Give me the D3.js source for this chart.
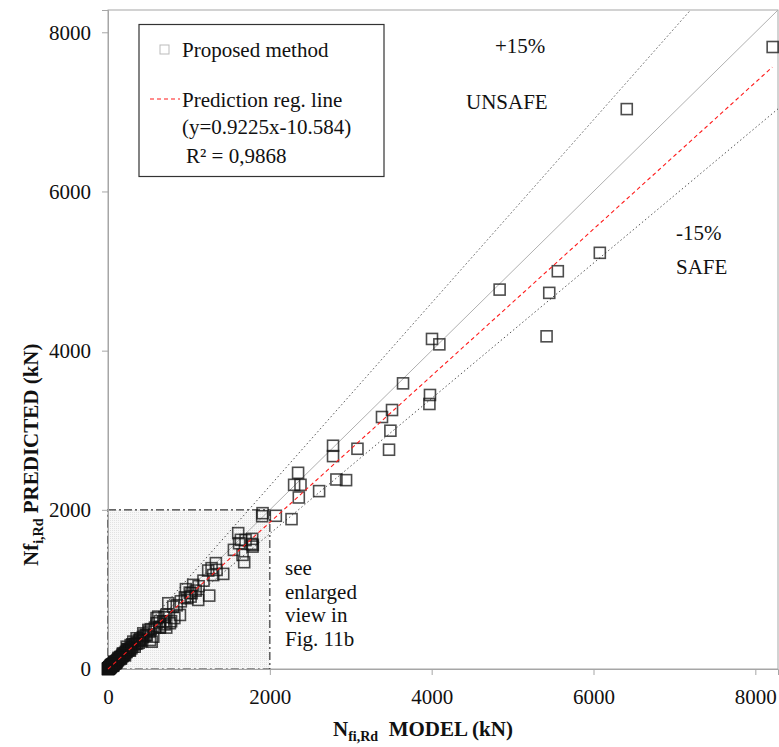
<!DOCTYPE html>
<html><head><meta charset="utf-8">
<script src="https://cdn.jsdelivr.net/npm/d3@7"></script>
<style>
body{margin:0;background:#fff;}
svg text{font-family:"Liberation Serif","Times New Roman",serif !important;fill:#111;}
</style></head>
<body>
<svg id="chart" width="779" height="747"></svg>
<script>
// ---- data ----
const modelValues = [
8214,6411,6078,5559,5453,5420,4840,4004,4095,3646,3979,3972,3510,3386,3490,3473,3083,2781,2781,
2349,2300,2379,2358,2609,2823,2942,1910,1905,2074,2268,1609,1642,1782,1774,1786,1790,1556,1663,1683,
1333,1280,1238,1424,1342,1053,963,1083,1251,1021,1033,1115,745,806,889,621,683,765,601,498,560,436,
354,519,313,642,540,395,231,
280,260,240,220,200,190,170,150,140,120,110,100,90,80,70,60,50,45,40,35,30,25,20,15,10,8,5,3,12,18,28,
55,65,75,85,95,105,130,160,180,210,250,290,330,360,400,420,450,470,510,530,580,640,700,720,850,900,950,
2,4,6,9,14,22,33,38,48,58,68,78,88,115,135,155,175,195,230,270,300,340,380,
700,720,780,820,600,640,480,430,380,330,300,270,240,210,180,160,130,100,80,60,40,20,0,1,5,12,25,35,50,65,75,90,
1010,1120,980,1180,1300,1620,1700
];
const predictedValues = [
7815,7035,5229,4998,4726,4180,4767,4147,4079,3589,3443,3330,3254,3166,2994,2755,2767,2805,2675,
2465,2314,2314,2155,2235,2381,2373,1958,1920,1925,1883,1707,1623,1635,1572,1538,1560,1497,1434,1342,
1330,1267,1237,1195,1245,1057,1003,985,922,910,952,868,826,784,679,658,595,575,575,491,406,448,
386,365,344,532,343,365,280,
300,240,230,215,180,195,160,150,125,115,100,90,85,75,62,58,45,40,35,32,28,22,18,14,9,6,4,2,10,20,25,
50,65,68,80,85,95,125,145,165,200,250,260,310,320,380,350,420,430,470,500,520,600,650,680,800,850,900,
3,2,7,8,12,20,30,40,42,55,60,70,82,105,128,140,165,180,215,250,280,320,360,
560,520,600,640,640,520,420,400,330,280,310,230,250,170,190,130,140,80,90,40,50,25,0,1,8,5,15,45,60,45,90,70,
960,1040,890,1110,1180,1580,1620
];
const axisTicks = [0, 2000, 4000, 6000, 8000];
const axisMax = 8280;
const regSlope = 0.9225, regIntercept = -10.584;
const regRange = [0, 8210];
const enlargeLimit = 2000;
const legendLabels = ["Proposed method", "Prediction reg. line", "(y=0.9225x-10.584)", "R\u00b2 = 0,9868"];
const noteLines = ["see", "enlarged", "view in", "Fig. 11b"];

// ---- chart ----
const FONT = "'Liberation Serif','Times New Roman',serif";
const svg = d3.select("#chart").attr("font-family", FONT);
const x = d3.scaleLinear().domain([0, axisMax]).range([108, 778]);
const y = d3.scaleLinear().domain([0, axisMax]).range([669, 10]);

const defs = svg.append("defs");
const pat = defs.append("pattern").attr("id","dots").attr("width",2).attr("height",2).attr("patternUnits","userSpaceOnUse");
pat.append("rect").attr("width",2).attr("height",2).attr("fill","#f8f8f8");
pat.append("rect").attr("width",1).attr("height",1).attr("fill","#e2e2e2");
defs.append("clipPath").attr("id","plotclip").append("rect")
  .attr("x",108).attr("y",10).attr("width",670).attr("height",659);

// plot frame
svg.append("rect").attr("x",108).attr("y",10).attr("width",670).attr("height",659)
  .attr("fill","#fff").attr("stroke","#a6a6a6").attr("stroke-width",1);

// enlarged region
svg.append("rect")
  .attr("x", x(0)).attr("y", y(enlargeLimit))
  .attr("width", x(enlargeLimit)-x(0)).attr("height", y(0)-y(enlargeLimit))
  .attr("fill","url(#dots)").attr("stroke","#333").attr("stroke-width",1.2)
  .attr("stroke-dasharray","8,3,2,3");

// axes
const xAxis = d3.axisBottom(x).tickValues(axisTicks).tickSize(6).tickPadding(10).tickFormat(d3.format("d"));
const yAxis = d3.axisLeft(y).tickValues(axisTicks).tickSize(6).tickPadding(11).tickFormat(d3.format("d"));
const gx = svg.append("g").attr("transform","translate(0,669)").call(xAxis);
const gy = svg.append("g").attr("transform","translate(108,0)").call(yAxis);
[gx, gy].forEach(g => {
  g.attr("font-family", FONT).attr("font-size", 21);
  g.select(".domain").attr("stroke","#a6a6a6");
  g.selectAll(".tick line").attr("stroke","#a6a6a6");
  g.selectAll(".tick text").attr("font-family", FONT).attr("font-size", 21).attr("fill","#111");
});
gx.selectAll(".tick text").attr("dy","0.9em");

const plot = svg.append("g").attr("clip-path","url(#plotclip)");
const line = d3.line().x(d => x(d[0])).y(d => y(d[1]));

plot.append("path").datum([[0,0],[axisMax,axisMax]]).attr("d",line)
  .attr("stroke","#b0b0b0").attr("stroke-width",1).attr("fill","none");
plot.append("path").datum([[0,0],[axisMax/1.15,axisMax]]).attr("d",line)
  .attr("stroke","#555").attr("stroke-width",1).attr("stroke-dasharray","1.5,2.5").attr("fill","none");
plot.append("path").datum([[0,0],[axisMax,axisMax*0.85]]).attr("d",line)
  .attr("stroke","#555").attr("stroke-width",1).attr("stroke-dasharray","1.5,2.5").attr("fill","none");

// points
const pts = modelValues.map((m,i) => [m, predictedValues[i]]);
const sq = 11;
svg.append("g").selectAll("rect").data(pts).join("rect")
  .attr("x", d => x(d[0]) - sq/2).attr("y", d => y(d[1]) - sq/2)
  .attr("width", sq).attr("height", sq)
  .attr("fill","none").attr("stroke","#111").attr("stroke-opacity",0.75).attr("stroke-width",1.6);

// regression line
svg.append("path").datum(regRange.map(v => [v, Math.max(0, regSlope*v + regIntercept)]))
  .attr("d",line).attr("stroke","#ff1a1a").attr("stroke-width",1.1)
  .attr("stroke-dasharray","4,3").attr("fill","none");

// annotations
const ann = svg.append("g").attr("font-size",21);
ann.append("text").attr("x",495).attr("y",53).text("+15%");
ann.append("text").attr("x",466).attr("y",109).text("UNSAFE");
ann.append("text").attr("x",676).attr("y",240).text("-15%");
ann.append("text").attr("x",676).attr("y",274).text("SAFE");
const note = svg.append("g").attr("font-size",21);
noteLines.forEach((t,i) => note.append("text").attr("x",285).attr("y",575 + i*23.5).text(t));

// legend
const lg = svg.append("g");
lg.append("rect").attr("x",139).attr("y",24.5).attr("width",245).attr("height",152)
  .attr("fill","#fff").attr("stroke","#333").attr("stroke-width",1.2);
lg.append("rect").attr("x",160).attr("y",45).attr("width",9).attr("height",9)
  .attr("fill","none").attr("stroke","#bbb").attr("stroke-width",1);
lg.append("line").attr("x1",150).attr("x2",180).attr("y1",99).attr("y2",99)
  .attr("stroke","#ff1a1a").attr("stroke-width",1.1).attr("stroke-dasharray","4,3");
const lgt = lg.append("g").attr("font-size",21);
lgt.append("text").attr("x",182).attr("y",57).text(legendLabels[0]);
lgt.append("text").attr("x",182).attr("y",107).text(legendLabels[1]);
lgt.append("text").attr("x",182).attr("y",134).text(legendLabels[2]);
lgt.append("text").attr("x",186).attr("y",163).text(legendLabels[3]);

// axis titles
const xt = svg.append("text").attr("x",333).attr("y",736).attr("font-size",21).attr("font-weight","bold");
xt.append("tspan").text("N");
xt.append("tspan").attr("dy",5).attr("font-size",14).text("fi,Rd");
xt.append("tspan").attr("dy",-5).text("\u00a0 MODEL (kN)");

const yt = svg.append("text").attr("transform","translate(38,566) rotate(-90)")
  .attr("font-size",21).attr("font-weight","bold");
yt.append("tspan").text("Nf");
yt.append("tspan").attr("dy",5).attr("font-size",14).text("i,Rd");
yt.append("tspan").attr("dy",-5).text(" PREDICTED (kN)");
</script>
</body></html>
